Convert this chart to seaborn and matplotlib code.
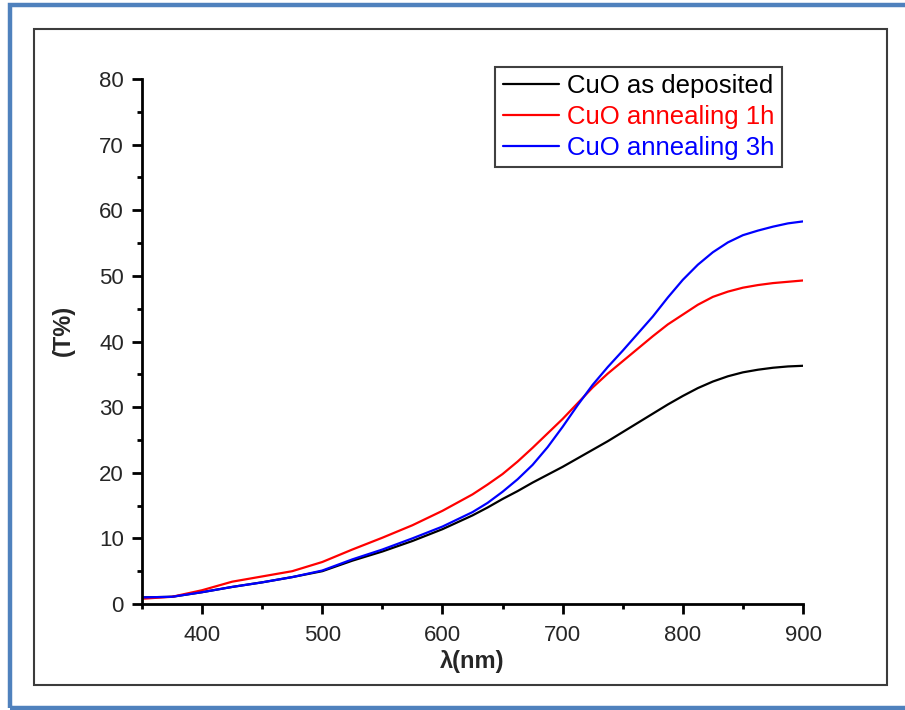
import matplotlib
matplotlib.use("Agg")
import matplotlib.pyplot as plt
from matplotlib.patches import Rectangle
from matplotlib.ticker import MultipleLocator
import seaborn as sns
import pandas as pd

wavelength = [350, 375, 400, 425, 450, 475, 500, 525, 550, 575, 600, 625,
              637.5, 650, 662.5, 675, 687.5, 700, 712.5, 725, 737.5, 750, 762.5,
              775, 787.5, 800, 812.5, 825, 837.5, 850, 862.5, 875, 887.5, 900]
as_deposited = [1.0, 1.1, 1.8, 2.6, 3.3, 4.1, 5.0, 6.6, 8.0, 9.6, 11.4, 13.5,
                14.7, 16.0, 17.2, 18.5, 19.7, 20.9, 22.2, 23.5, 24.8, 26.2, 27.6,
                29.0, 30.4, 31.7, 32.9, 33.9, 34.7, 35.3, 35.7, 36.0, 36.2, 36.3]
annealing_1h = [0.8, 1.1, 2.1, 3.4, 4.2, 5.0, 6.4, 8.3, 10.1, 12.0, 14.2, 16.7,
                18.2, 19.8, 21.7, 23.8, 26.0, 28.2, 30.6, 33.0, 35.1, 37.0, 38.9,
                40.8, 42.6, 44.1, 45.6, 46.8, 47.6, 48.2, 48.6, 48.9, 49.1, 49.3]
annealing_3h = [1.0, 1.1, 1.8, 2.6, 3.3, 4.1, 5.1, 6.8, 8.3, 10.0, 11.8, 14.0,
                15.4, 17.1, 19.0, 21.2, 23.9, 27.0, 30.3, 33.4, 36.1, 38.6, 41.2,
                43.8, 46.7, 49.4, 51.7, 53.6, 55.1, 56.2, 56.9, 57.5, 58.0, 58.3]
labels = ["CuO as deposited", "CuO annealing 1h", "CuO annealing 3h"]
colors = ["#000000", "#ff0000", "#0000ff"]
x_ticks = [400, 500, 600, 700, 800, 900]
y_ticks = [0, 10, 20, 30, 40, 50, 60, 70, 80]

df = pd.concat([
    pd.DataFrame({"wl": wavelength, "T": vals, "sample": lab})
    for vals, lab in zip([as_deposited, annealing_1h, annealing_3h], labels)
])

sns.set_style("ticks")
plt.rcParams["font.family"] = ["Liberation Sans", "DejaVu Sans"]

fig = plt.figure(figsize=(9.05, 7.10), dpi=100)
ax = fig.add_axes([142 / 905, 1 - 604 / 710, 661 / 905, 525 / 710])

sns.lineplot(data=df, x="wl", y="T", hue="sample", palette=dict(zip(labels, colors)),
             linewidth=1.6, ax=ax, legend=True)

ax.set_xlim(350, 900)
ax.set_ylim(0, 80)
ax.set_xticks(x_ticks)
ax.set_yticks(y_ticks)
ax.xaxis.set_minor_locator(MultipleLocator(50))
ax.yaxis.set_minor_locator(MultipleLocator(5))
sns.despine(ax=ax)
for s in ["left", "bottom"]:
    ax.spines[s].set_linewidth(2)
    ax.spines[s].set_color("black")
ax.tick_params(which="major", length=7, width=2, labelsize=16, color="black")
ax.tick_params(which="minor", length=3.5, width=2, color="black")
ax.tick_params(axis="x", which="major", pad=8)
ax.tick_params(axis="y", which="major", pad=6)

ax.set_xlabel("λ(nm)", fontsize=17, fontweight="bold")
ax.set_ylabel("(T%)", fontsize=17, fontweight="bold")
ax.xaxis.set_label_coords(0.5, -0.088)
ax.yaxis.set_label_coords(-0.101, 0.522)

leg = ax.legend(loc="upper right", bbox_to_anchor=(782 / 905, 1 - 66.5 / 710),
                bbox_transform=fig.transFigure, fontsize=18.5, frameon=True,
                fancybox=False, framealpha=1, edgecolor="#404040",
                handlelength=2.2, handletextpad=0.3, labelspacing=0.26,
                borderpad=0.3, borderaxespad=0)
leg.get_frame().set_linewidth(1.5)
for txt, c in zip(leg.get_texts(), colors):
    txt.set_color(c)
for line in leg.get_lines():
    line.set_linewidth(1.6)

fig.add_artist(Rectangle((34 / 905, 1 - 684.7 / 710), 852.5 / 905, 655.4 / 710,
                         transform=fig.transFigure, fill=False,
                         edgecolor="#3c3c3c", linewidth=1.5))
fig.add_artist(Rectangle((9.5 / 905, 1 - 708 / 710), 920 / 905, 703.5 / 710,
                         transform=fig.transFigure, fill=False,
                         edgecolor="#4f81bd", linewidth=3.2, clip_on=False))

fig.savefig("out.png", dpi=100)
